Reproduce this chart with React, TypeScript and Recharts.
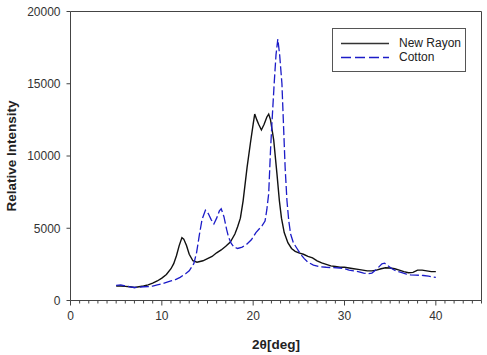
import {
  LineChart,
  Line,
  XAxis,
  YAxis,
  Legend,
  Label,
  ReferenceLine,
} from "recharts";

// New Rayon (black solid)
const rayonX = [
  5.0, 5.5, 6.0, 6.5, 7.0, 7.5, 8.0, 8.5, 9.0, 9.5, 10.0, 10.5, 11.0, 11.3, 11.6, 11.9, 12.2, 12.4, 12.7, 13.0,
  13.4, 13.85, 14.5, 15.0, 15.5, 16.0, 16.5, 17.0, 17.5, 18.0, 18.3, 18.6, 18.9, 19.33, 19.7, 20.0, 20.17, 20.4,
  20.6, 20.9, 21.2, 21.5, 21.7, 21.9, 22.05, 22.25, 22.6, 22.87, 23.1, 23.4, 23.8, 24.2, 24.6, 25.0, 25.5, 26.0,
  26.5, 27.0, 27.5, 28.0, 28.5, 29.0, 29.5, 30.0, 30.5, 31.0, 31.5, 32.0, 32.5, 33.0, 33.5, 34.0, 34.5, 35.0,
  35.5, 36.0, 36.5, 37.0, 37.5, 38.0, 38.5, 39.0, 39.5, 40.0,
];
const rayonY = [
  1000, 1000, 980, 950, 900, 950, 1000, 1080, 1200, 1350, 1550, 1800, 2200, 2550, 3100, 3800, 4350, 4250, 3800, 3200,
  2750, 2650, 2750, 2900, 3050, 3300, 3500, 3750, 4050, 4600, 5100, 5700, 6900, 9200, 10900, 12200, 12900, 12500,
  12200, 11800, 12200, 12700, 12900, 12500, 11900, 11100, 8800, 6900, 5700, 4700, 4000, 3600, 3400, 3300, 3200, 3050,
  2950, 2750, 2600, 2500, 2400, 2350, 2300, 2300, 2250, 2200, 2150, 2100, 2050, 2050, 2100, 2200, 2270, 2250,
  2200, 2100, 2000, 1920, 1950, 2100, 2100, 2050, 2000, 2000,
];

// Cotton (blue dashed)
const cottonX = [
  5.0, 5.5, 6.0, 6.5, 7.0, 7.5, 8.0, 8.5, 9.0, 9.5, 10.0, 10.5, 11.0, 11.5, 12.0, 12.6, 13.0, 13.5, 13.8, 14.1,
  14.4, 14.77, 15.1, 15.4, 15.7, 16.0, 16.3, 16.5, 16.8, 17.1, 17.3, 17.6, 17.9, 18.3, 18.8, 19.3, 19.8, 20.3,
  20.8, 21.0, 21.3, 21.5, 21.7, 21.9, 22.1, 22.3, 22.5, 22.7, 22.9, 23.15, 23.3, 23.5, 23.7, 23.9, 24.1, 24.4,
  24.8, 25.2, 25.6, 26.0, 26.6, 27.2, 28.0, 28.8, 29.5, 30.0, 30.5, 31.0, 31.5, 32.1, 32.6, 33.0, 33.5, 34.1,
  34.4, 34.65, 35.2, 35.7, 36.2, 36.7, 37.2, 37.8, 38.65, 39.2, 39.75, 40.0,
];
const cottonY = [
  1050, 1080, 1000, 950, 900, 920, 950, 960, 1000, 1080, 1150, 1250, 1350, 1450, 1600, 1850, 2050, 2550, 3300, 4500,
  5600, 6250, 6000, 5600, 5300, 5700, 6200, 6350, 5800, 4900, 4400, 3950, 3700, 3600, 3700, 3900, 4200, 4700,
  5050, 5200, 5500, 6300, 7400, 10400, 12800, 15000, 17000, 18100, 17000, 15000, 12500, 9200, 6900, 5500, 4600, 4000,
  3600, 3200, 2900, 2650, 2450, 2350, 2300, 2270, 2250, 2200, 2100, 2050, 2000, 1900, 1850, 1900, 2150, 2540,
  2580, 2450, 2200, 2030, 1950, 1850, 1780, 1760, 1730, 1680, 1620, 1600,
];

const xMajorTicks = [0, 10, 20, 30, 40];
const xAllTicks = Array.from({ length: 46 }, (_, i) => i);
const yTicks = [0, 5000, 10000, 15000, 20000];

const rayonData = rayonX.map((x, i) => ({ x, y: rayonY[i] }));
const cottonData = cottonX.map((x, i) => ({ x, y: cottonY[i] }));

const font = "'Liberation Sans', Arial, sans-serif";
const axisColor = "#444";
const blue = "#1c1cc8";

const XTick = ({ x, y, payload }: any) => {
  const major = xMajorTicks.includes(payload.value);
  return (
    <g>
      <line x1={x} x2={x} y1={y} y2={y + (major ? 5 : 3)} stroke={axisColor} />
      {major && (
        <text x={x} y={y + 19.5} textAnchor="middle" fontSize={12} fill="#333" fontFamily={font}>
          {payload.value}
        </text>
      )}
    </g>
  );
};

const YTitle = ({ viewBox }: any) => {
  const cx = 16;
  const cy = viewBox.y + viewBox.height / 2;
  return (
    <text
      x={cx}
      y={cy}
      transform={`rotate(-90 ${cx} ${cy})`}
      textAnchor="middle"
      fontSize={13.5}
      fontWeight="bold"
      fill="#222"
      fontFamily={font}
    >
      Relative Intensity
    </text>
  );
};

const LegendBox = () => (
  <div
    style={{
      position: "relative",
      width: 134,
      height: 44,
      border: "1px solid #555",
      boxSizing: "border-box",
      background: "#fff",
      fontFamily: font,
      fontSize: 12,
      color: "#222",
    }}
  >
    <svg width={60} height={44} style={{ position: "absolute", left: 0, top: -1 }}>
      <line x1={8} x2={56} y1={15.5} y2={15.5} stroke="#333" strokeWidth={1.3} />
      <line x1={8} x2={56} y1={29.5} y2={29.5} stroke={blue} strokeWidth={1.3} strokeDasharray="10 4" />
    </svg>
    <div style={{ position: "absolute", left: 66, top: 7, lineHeight: "14px" }}>New Rayon</div>
    <div style={{ position: "absolute", left: 66, top: 21, lineHeight: "14px" }}>Cotton</div>
  </div>
);

export default function App() {
  return (
    <div>
      <style>{"body{margin:0;background:#fff}"}</style>
      <LineChart width={487} height={355} margin={{ top: 11.5, right: 5.5, bottom: 0, left: 0 }}>
        <XAxis
          dataKey="x"
          type="number"
          domain={[0, 45]}
          ticks={xAllTicks}
          interval={0}
          tickSize={0}
          tickMargin={0}
          tickLine={false}
          tick={<XTick />}
          height={54.5}
          axisLine={{ stroke: axisColor }}
          allowDuplicatedCategory={false}
        >
          <Label
            value="2θ[deg]"
            position="insideBottom"
            offset={6}
            fontSize={13.5}
            fontWeight="bold"
            fill="#222"
            fontFamily={font}
          />
        </XAxis>
        <YAxis
          type="number"
          domain={[0, 20000]}
          ticks={yTicks}
          interval={0}
          width={70.5}
          tickSize={4}
          tickMargin={6}
          tick={{ fontSize: 12, fill: "#333", fontFamily: font }}
          tickLine={{ stroke: axisColor }}
          axisLine={{ stroke: axisColor }}
          label={<YTitle />}
        />
        <ReferenceLine y={20000} stroke={axisColor} />
        <ReferenceLine x={45} stroke={axisColor} />
        <Legend
          content={<LegendBox />}
          layout="horizontal"
          verticalAlign="middle"
          align="center"
          wrapperStyle={{ position: "absolute", left: 332, top: 28, width: 134, height: 44 }}
        />
        <Line
          data={rayonData}
          dataKey="y"
          name="New Rayon"
          type="linear"
          stroke="#111"
          strokeWidth={1.4}
          dot={false}
          isAnimationActive={false}
        />
        <Line
          data={cottonData}
          dataKey="y"
          name="Cotton"
          type="linear"
          stroke={blue}
          strokeWidth={1.3}
          strokeDasharray="9 3"
          dot={false}
          isAnimationActive={false}
        />
      </LineChart>
    </div>
  );
}
